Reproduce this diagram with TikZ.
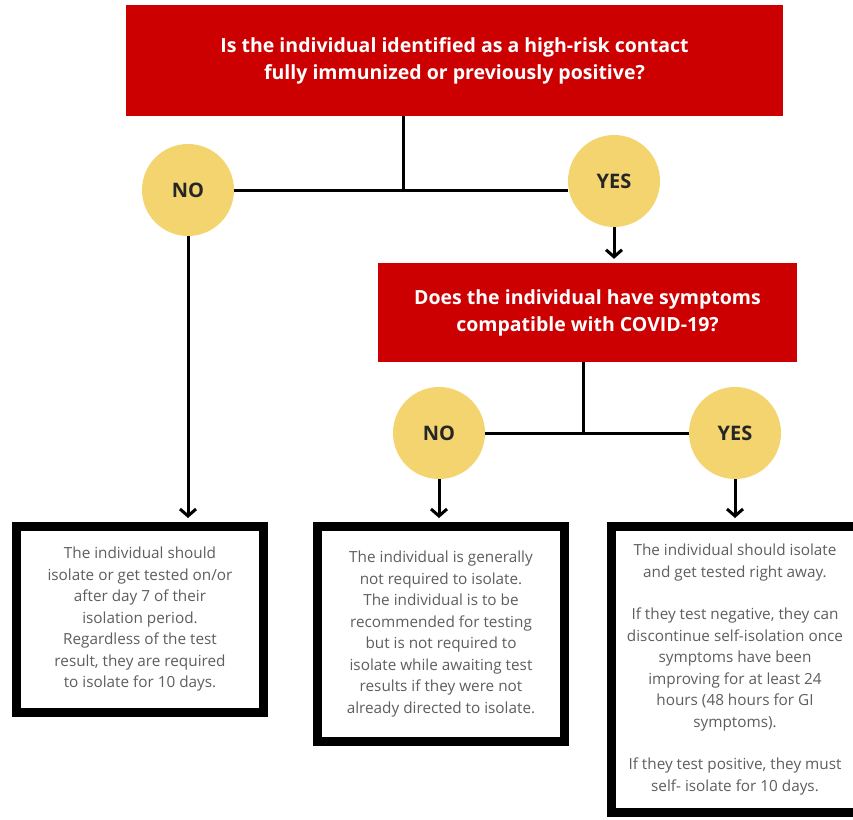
\documentclass[tikz,border=0pt]{standalone}
\usepackage{fontspec}
\setmainfont{Open Sans}
\usepackage{xcolor}
\usetikzlibrary{arrows.meta}
\definecolor{askred}{HTML}{CC0000}
\definecolor{answer}{HTML}{F3D46E}
\definecolor{note}{HTML}{5E5E5E}
\tikzset{
  ask/.style={fill=askred, text=white, font=\bfseries\fontsize{19.5}{27}\selectfont, align=center, inner sep=0pt},
  ans/.style={circle, fill=answer, text=black!85, font=\bfseries\fontsize{20}{22}\selectfont, minimum size=92pt, inner sep=0pt},
  info/.style={draw=black, line width=9pt, fill=white, text=note, font=\fontsize{15.3}{21.5}\selectfont, align=center, inner sep=0pt, minimum width=247pt},
  link/.style={draw=black, line width=3pt},
  go/.style={link, -{Straight Barb[length=7pt,width=16pt]}, shorten >=4pt}
}

\begin{document}
\begin{tikzpicture}[x=1pt, y=-1pt]
  \path[use as bounding box, fill=white] (0,0) rectangle (853,819);

  \node[ask, minimum width=657pt, minimum height=111pt] (q1) at (454.5,60.5)
    {Is the individual identified as a high-risk contact\\fully immunized or previously positive?};
  \node[ans] (no1) at (188,190) {NO};
  \node[ans] (yes1) at (614,181) {YES};
  \coordinate (j1) at (403,190);

  \node[ask, minimum width=419pt, minimum height=99pt] (q2) at (587.5,312.5)
    {Does the individual have symptoms\\compatible with COVID-19?};
  \node[ans] (no2) at (439,433) {NO};
  \node[ans] (yes2) at (735,433) {YES};
  \coordinate (j2) at (583,433);

  \node[info, minimum height=186pt] (r1) at (140,619.5)
    {The individual should\\isolate or get tested on/or\\after day 7 of their\\isolation period.\\Regardless of the test\\result, they are required\\to isolate for 10 days.};
  \node[info, minimum height=215pt] (r2) at (441,634)
    {The individual is generally\\not required to isolate.\\The individual is to be\\recommended for testing\\but is not required to\\isolate while awaiting test\\results if they were not\\already directed to isolate.};
  \node[info, minimum height=286pt] (r3) at (735,669.5)
    {The individual should isolate\\and get tested right away.\\[21pt]If they test negative, they can\\discontinue self-isolation once\\symptoms have been\\improving for at least 24\\hours (48 hours for GI\\symptoms).\\[21pt]If they test positive, they must\\self- isolate for 10 days.};

  \draw[link] (q1.south -| j1) -- (j1);
  \draw[link] (no1.east) -- (j1) -- (yes1.west |- j1);
  \draw[go] (yes1.south) -- (yes1.south |- q2.north);
  \draw[go] (no1.south) -- (no1.south |- r1.north);

  \draw[link] (q2.south -| j2) -- (j2);
  \draw[link] (no2.east) -- (yes2.west);
  \draw[go] (no2.south) -- (no2.south |- r2.north);
  \draw[go] (yes2.south) -- (yes2.south |- r3.north);
\end{tikzpicture}
\end{document}
